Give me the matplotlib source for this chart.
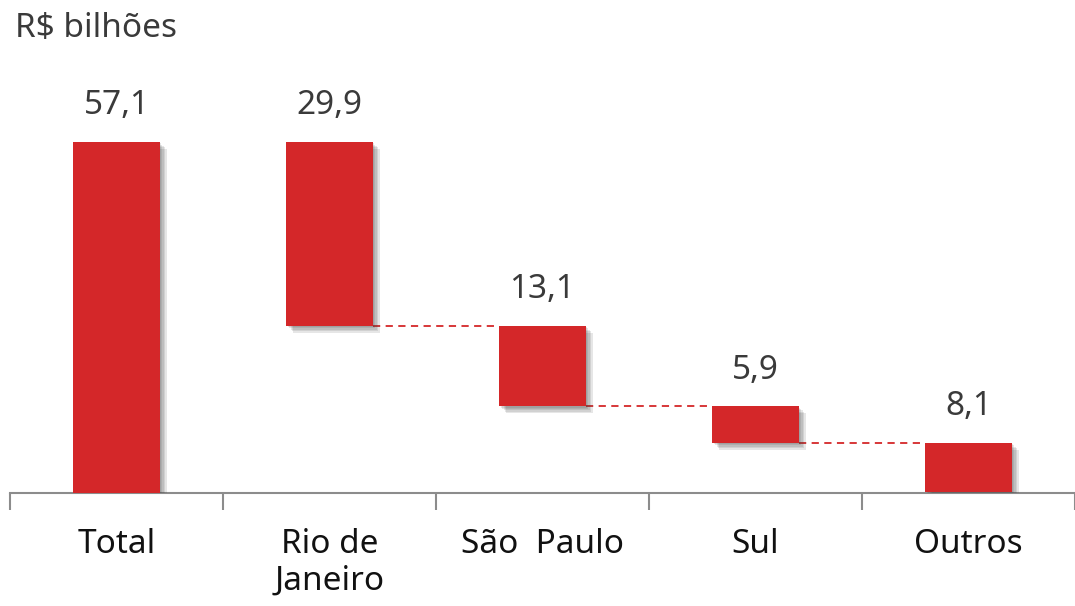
import matplotlib.pyplot as plt
import matplotlib.patheffects as pe
from matplotlib.ticker import FixedLocator

plt.rcParams['font.family'] = ['Noto Sans', 'DejaVu Sans']

categories = ["Total", "Rio de\nJaneiro", "São  Paulo", "Sul", "Outros"]
values = [57.1, 29.9, 13.1, 5.9, 8.1]
labels = ["57,1", "29,9", "13,1", "5,9", "8,1"]

red = "#D42729"

# waterfall: total from zero, then each region hangs below the previous one
bottoms = [0.0]
tops = [values[0]]
level = values[0]
for v in values[1:]:
    tops.append(level)
    level -= v
    bottoms.append(max(level, 0.0))
heights = [t - b for t, b in zip(tops, bottoms)]

fig = plt.figure(figsize=(10.75, 6.06), dpi=100)
ax = fig.add_axes([10 / 1075, 113 / 606, 1065 / 1075, 433 / 606])

x = list(range(len(categories)))
bars = ax.bar(x, heights, bottom=bottoms, width=0.405, color=red, zorder=3)

# soft drop shadow built from a few stacked offsets
shadow = [pe.SimplePatchShadow(offset=(d, -d), shadow_rgbFace="#444444", alpha=0.13)
          for d in (1, 2, 3, 4, 5)]
for b in bars:
    b.set_path_effects(shadow + [pe.Normal()])

# dashed connectors between consecutive steps
for i in range(1, len(x) - 1):
    ax.plot([x[i] + 0.2025, x[i + 1] - 0.2025], [bottoms[i], bottoms[i]],
            color=red, lw=1.3, ls=(0, (4, 3)), zorder=2)

for xi, t, lab in zip(x, tops, labels):
    ax.text(xi, t + 3.2, lab, ha="center", va="bottom", fontsize=24, color="#3a3a3a")

ax.set_xlim(-0.5, 4.5)
ax.set_ylim(0, 70.4)
for s in ["top", "right", "left"]:
    ax.spines[s].set_visible(False)
ax.spines["bottom"].set_color("#8c8c8c")
ax.spines["bottom"].set_linewidth(1.5)
ax.set_yticks([])

ax.set_xticks(x)
ax.set_xticklabels(categories, fontsize=24, color="#111111", linespacing=1.15, va="top")
ax.tick_params(axis="x", which="major", length=0, pad=25)
ax.xaxis.set_minor_locator(FixedLocator([i - 0.5 for i in range(len(x) + 1)]))
ax.tick_params(axis="x", which="minor", length=12, width=1.5, color="#8c8c8c")

fig.text(15 / 1075, 1 - 12 / 606, "R$ bilhões", ha="left", va="top", fontsize=24, color="#3a3a3a")

fig.savefig("out.png", dpi=100)
